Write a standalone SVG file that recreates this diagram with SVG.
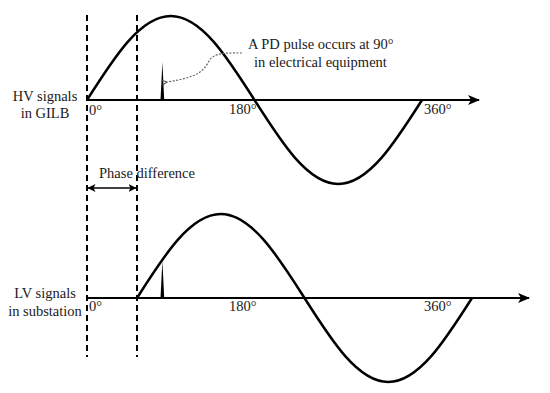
<svg xmlns="http://www.w3.org/2000/svg" width="550" height="393" viewBox="0 0 550 393">
<defs>
<marker id="arr" viewBox="0 0 12 10" refX="11" refY="5" markerWidth="12" markerHeight="10" markerUnits="userSpaceOnUse" orient="auto">
<path d="M0,0 L12,5 L0,10 L3,5 Z" fill="#000"/>
</marker>
<marker id="arrS" viewBox="0 0 8 8" refX="7.5" refY="4" markerWidth="8" markerHeight="8" markerUnits="userSpaceOnUse" orient="auto-start-reverse">
<path d="M0,0 L8,4 L0,8 L2,4 Z" fill="#000"/>
</marker>
<marker id="arrG" viewBox="0 0 6 6" refX="0.5" refY="3" markerWidth="6" markerHeight="6" markerUnits="userSpaceOnUse" orient="auto">
<path d="M5.5,0.5 L0.5,3 L5.5,5.5" fill="none" stroke="#555" stroke-width="1"/>
</marker>
</defs>
<style>
text{font-family:"Liberation Serif","Times New Roman",serif;font-size:14.5px;fill:#1a1a1a}
.axis{stroke:#000;stroke-width:2;fill:none}
.wave{stroke:#000;stroke-width:2.5;fill:none}
.dash{stroke:#000;stroke-width:2;stroke-dasharray:6,4;fill:none}
.pulse{fill:#000}
</style>
<g id="guides">
<line class="dash" x1="87" y1="15" x2="87" y2="357"/>
<line class="dash" x1="137" y1="15" x2="137" y2="357"/>
</g>
<g id="hv-signal">
<line class="axis" x1="87" y1="100" x2="479" y2="100" marker-end="url(#arr)"/>
<path class="wave" d="M87,100 C114.34,56.92 140.44,16 170.75,16 C201.06,16 227.16,56.92 254.5,100 C281.84,143.08 307.94,184 338.25,184 C368.56,184 394.66,143.08 422,100"/>
<polygon class="pulse" points="160.5,100 164.2,100 162.4,62"/>
<text x="45" y="101" text-anchor="middle">HV signals</text>
<text x="45" y="118" text-anchor="middle">in GILB</text>
<text x="89" y="115">0°</text>
<text x="229" y="114">180°</text>
<text x="424" y="114">360°</text>
</g>
<g id="lv-signal">
<line class="axis" x1="87" y1="298" x2="529" y2="298" marker-end="url(#arr)"/>
<path class="wave" d="M137,298 C164.34,254.92 190.44,214 220.75,214 C251.06,214 277.16,254.92 304.5,298 C331.84,341.08 357.94,382 388.25,382 C418.56,382 444.66,341.08 472,298"/>
<polygon class="pulse" points="160.5,298 164.2,298 162.4,261"/>
<text x="45" y="298" text-anchor="middle">LV signals</text>
<text x="45" y="316" text-anchor="middle">in substation</text>
<text x="89" y="311">0°</text>
<text x="229" y="311">180°</text>
<text x="424" y="311">360°</text>
</g>
<g id="annotation">
<text x="248" y="49">A PD pulse occurs at 90°</text>
<text x="254" y="67">in electrical equipment</text>
</g>
<g id="phase">
<text x="99" y="178">Phase difference</text>
</g>
<g id="connectors">
<path d="M242,53 C228,53 214,52 209,61 C204,70 200,77 167,82" fill="none" stroke="#666" stroke-width="1.2" stroke-dasharray="2,1.5" marker-end="url(#arrG)"/>
<line x1="88" y1="188" x2="136" y2="188" stroke="#000" stroke-width="1.5" marker-start="url(#arrS)" marker-end="url(#arrS)"/>
</g>
</svg>
